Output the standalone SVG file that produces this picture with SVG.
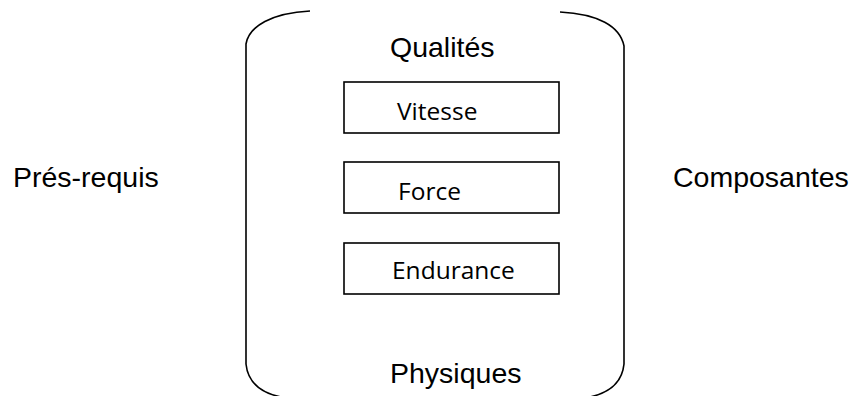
<svg xmlns="http://www.w3.org/2000/svg" width="854" height="396" viewBox="0 0 854 396">
<style>
.br{fill:none;stroke:#000;stroke-width:1.6}
.box{fill:#fff;stroke:#000;stroke-width:1.6}
.t{font-family:"Liberation Sans",Arial,sans-serif;font-size:28.5px;fill:#000}
.i{font-family:"Open Sans","Noto Sans",sans-serif;font-size:24.5px;fill:#000}
</style>
<rect width="854" height="396" fill="#fff"/>
<g id="container">
<path class="br" d="M310,11 C272,13 249,26 246,44 L246,364 C248,384 262,393 281,397"/>
<path class="br" d="M560,12 C598,14 620,26 624,46 L624,364 C622,384 608,393 590,397"/>
<text class="t" x="390" y="57">Qualités</text>
<text class="t" x="390" y="383">Physiques</text>
</g>
<g id="vitesse">
<rect class="box" x="344" y="82" width="215" height="51"/>
<text class="i" x="397" y="120">Vitesse</text>
</g>
<g id="force">
<rect class="box" x="344" y="162" width="215" height="51"/>
<text class="i" x="398" y="200">Force</text>
</g>
<g id="endurance">
<rect class="box" x="344" y="243" width="215" height="51"/>
<text class="i" x="392" y="279">Endurance</text>
</g>
<g id="presrequis">
<text class="t" x="13" y="187">Prés-requis</text>
</g>
<g id="composantes">
<text class="t" x="673" y="187">Composantes</text>
</g>
<g id="connectors"></g>
</svg>
